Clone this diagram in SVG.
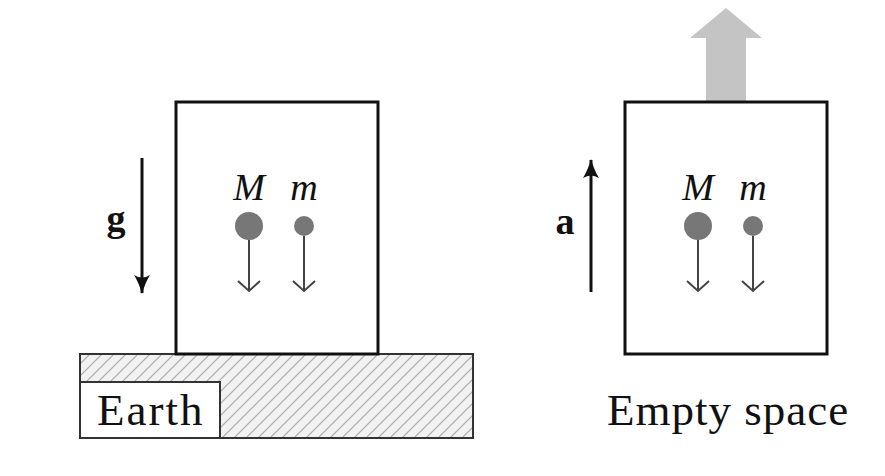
<svg xmlns="http://www.w3.org/2000/svg" width="885" height="476" viewBox="0 0 885 476">
<style>
.box{fill:#fff;stroke:#111;stroke-width:3}
.ball{fill:#777}
.fall{stroke:#444;stroke-width:2;fill:none}
.lbl{font-family:"Liberation Serif",serif;fill:#111}
.it{font-style:italic;font-size:38px}
.bd{font-weight:bold;font-size:38px}
.big{font-size:45px}
.vec{stroke:#111;stroke-width:3;fill:none}
</style>
<defs>
<pattern id="hatch" patternUnits="userSpaceOnUse" width="12" height="12">
<rect width="12" height="12" fill="#f2f2f2"/>
<path d="M-3,3 L3,-3 M0,12 L12,0 M9,15 L15,9" stroke="#aaa" stroke-width="1.2"/>
</pattern>
<marker id="open" markerWidth="24" markerHeight="24" refX="11" refY="12" orient="auto" markerUnits="userSpaceOnUse">
<path d="M1,1 L11,12 L1,23" fill="none" stroke="#444" stroke-width="2"/>
</marker>
<marker id="solid" markerWidth="20" markerHeight="20" refX="18" refY="10" orient="auto" markerUnits="userSpaceOnUse">
<path d="M0,2 Q8,7 19,10 Q8,13 0,18 Q5,10 0,2 Z" fill="#111"/>
</marker>
</defs>
<g id="earth">
<rect x="80" y="354" width="393" height="84" fill="url(#hatch)" stroke="#333" stroke-width="2"/>
<rect x="80" y="382" width="140" height="56" fill="#fff" stroke="#333" stroke-width="2"/>
<text class="lbl big" x="97" y="425" letter-spacing="2">Earth</text>
</g>
<g id="left-box">
<rect class="box" x="176" y="102" width="202" height="252"/>
<text class="lbl it" x="249" y="200" text-anchor="middle">M</text>
<text class="lbl it" x="304" y="200" text-anchor="middle">m</text>
<circle class="ball" cx="249" cy="226" r="14"/>
<circle class="ball" cx="304" cy="226" r="10"/>
</g>
<g id="right-box">
<polygon points="726,8 762,38 746,38 746,102 706,102 706,38 690,38" fill="#c4c4c4"/>
<rect class="box" x="625" y="102" width="202" height="252"/>
<text class="lbl it" x="698" y="200" text-anchor="middle">M</text>
<text class="lbl it" x="753" y="200" text-anchor="middle">m</text>
<circle class="ball" cx="698" cy="226" r="14"/>
<circle class="ball" cx="753" cy="226" r="10"/>
<text class="lbl big" x="607" y="425" letter-spacing="1">Empty space</text>
</g>
<g id="g-label"><text class="lbl bd" x="116" y="231" text-anchor="middle">g</text></g>
<g id="a-label"><text class="lbl bd" x="565" y="234" text-anchor="middle">a</text></g>
<g id="connectors">
<line class="vec" x1="142" y1="158" x2="142" y2="293" marker-end="url(#solid)"/>
<line class="vec" x1="591" y1="292" x2="591" y2="160" marker-end="url(#solid)"/>
<line class="fall" x1="249" y1="240" x2="249" y2="291" marker-end="url(#open)"/>
<line class="fall" x1="304" y1="236" x2="304" y2="291" marker-end="url(#open)"/>
<line class="fall" x1="698" y1="240" x2="698" y2="291" marker-end="url(#open)"/>
<line class="fall" x1="753" y1="236" x2="753" y2="291" marker-end="url(#open)"/>
</g>
</svg>
